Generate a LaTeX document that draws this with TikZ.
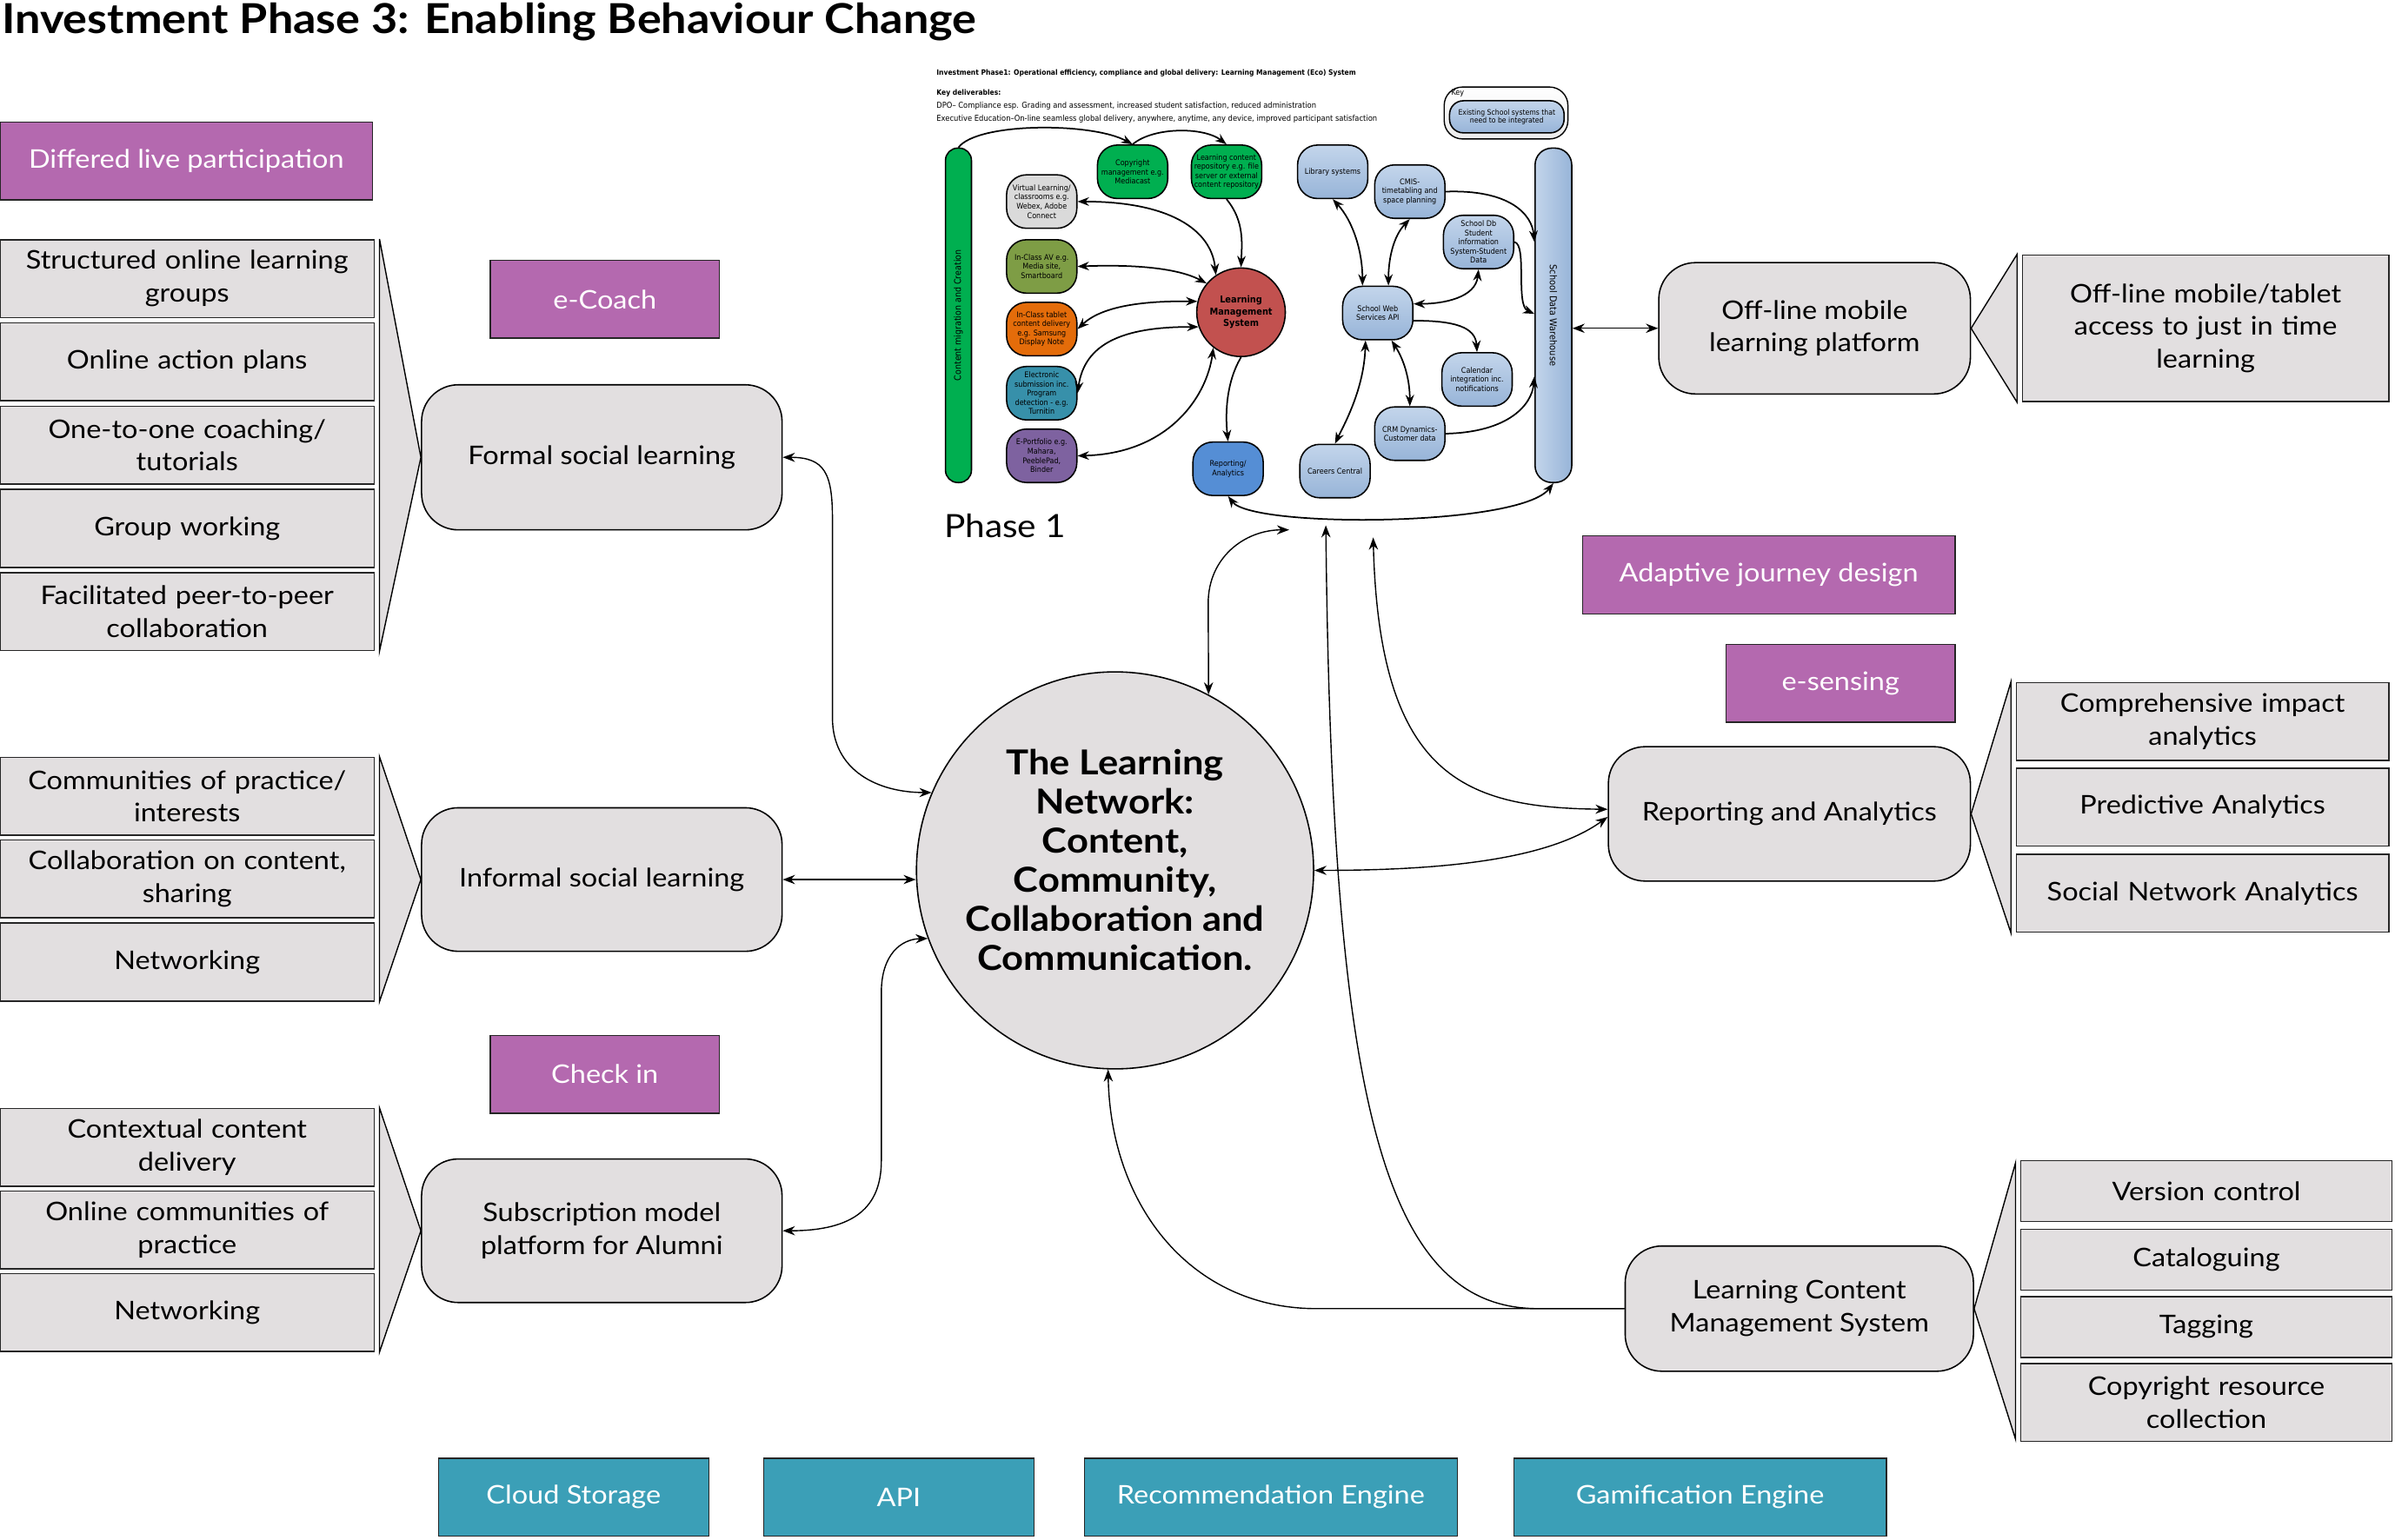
\documentclass[tikz,border=0pt]{standalone}
\usepackage{fontspec}
\setmainfont{Lato}[FakeStretch=1.1]
\newfontfamily\phasefont{DejaVu Sans}[FakeStretch=0.9]
\usetikzlibrary{arrows.meta,calc,positioning}

\definecolor{plum}{HTML}{B469AF}
\definecolor{boxgrey}{HTML}{E2DFE0}
\definecolor{engteal}{HTML}{3B9FB7}
\definecolor{igreen}{HTML}{00AF50}
\definecolor{vlgrey}{HTML}{DADADA}
\definecolor{olive}{HTML}{7E9D45}
\definecolor{iorange}{HTML}{E46C0A}
\definecolor{iteal}{HTML}{3790AA}
\definecolor{ipurple}{HTML}{7E62A0}
\definecolor{lmsred}{HTML}{C2514F}
\definecolor{iblue}{HTML}{558ED5}
\definecolor{lbtop}{HTML}{C3D5EB}
\definecolor{lbbot}{HTML}{97B4D8}

\newcommand\mainsize{\fontsize{16.8}{21.5}\selectfont}
\newcommand\phasesize{\phasefont\fontsize{5.1}{6}\selectfont}

\begin{document}
\begin{tikzpicture}[x=1pt,y=-1pt,
    pbox/.style={draw=black!85,line width=0.8pt,fill=plum,text=white,minimum width=150pt,minimum height=51pt,font=\mainsize},
    gbox/.style={draw=black!85,line width=0.9pt,fill=boxgrey,minimum width=245pt,minimum height=51pt,text width=238pt,align=center,inner sep=0pt,font=\mainsize},
    rbox/.style={draw=black,line width=0.9pt,fill=boxgrey,rounded corners=24pt,minimum width=236pt,minimum height=94pt,align=center,font=\mainsize},
    tbox/.style={draw=black!85,line width=0.8pt,fill=engteal,text=white,minimum width=177pt,minimum height=51pt,font=\mainsize},
    wedge/.style={draw=black,line width=0.8pt,fill=boxgrey},
    marrow/.style={line width=0.8pt,>={Stealth[length=8pt,width=6pt]}},
    ibox/.style={draw=black,line width=0.9pt,rounded corners=13pt,minimum width=46pt,minimum height=35pt,inner sep=0.5pt,align=center,font=\phasesize},
    sysbox/.style={ibox,top color=lbtop,bottom color=lbbot},
    iarrow/.style={line width=1pt,>={Stealth[length=7.5pt,width=5.6pt]}},
    headline/.style={anchor=base west,inner sep=0pt},
  ]
  \useasboundingbox (0,0) rectangle (1568,1008);
  \fill[white] (0,0) rectangle (1568,1008);

  \node[headline,font=\bfseries\fontsize{27}{30}\selectfont] (title) at (1,22) {Investment Phase 3: Enabling Behaviour Change};

  \node[pbox,minimum width=244pt] (dlp) at (122,105.5) {Differed live participation};
  \node[pbox] (ecoach) at (396,196) {e-Coach};
  \node[pbox] (checkin) at (396,703.5) {Check in};
  \node[pbox,minimum width=244pt] (adaptive) at (1158,376.5) {Adaptive journey design};
  \node[pbox] (esensing) at (1205,447.5) {e-sensing};

  \node[gbox] (s1) at (122.5,182.5) {Structured online learning\\groups};
  \node[gbox] (s2) at (122.5,237) {Online action plans};
  \node[gbox] (s3) at (122.5,291.5) {One-to-one coaching/\\tutorials};
  \node[gbox] (s4) at (122.5,346) {Group working};
  \node[gbox] (s5) at (122.5,400.5) {Facilitated peer-to-peer\\collaboration};
  \node[rbox,minimum height=95pt] (formal) at (394,299.5) {Formal social learning};
  \filldraw[wedge] ($(s1.north east)+(3,0)$) -- (formal.west) -- ($(s5.south east)+(3,0)$) -- cycle;

  \node[gbox] (i1) at (122.5,521.5) {Communities of practice/\\interests};
  \node[gbox] (i2) at (122.5,575.5) {Collaboration on content,\\sharing};
  \node[gbox] (i3) at (122.5,630) {Networking};
  \node[rbox] (informal) at (394,576) {Informal social learning};
  \filldraw[wedge] ($(i1.north east)+(3,0)$) -- (informal.west) -- ($(i3.south east)+(3,0)$) -- cycle;

  \node[gbox] (a1) at (122.5,751.5) {Contextual content\\delivery};
  \node[gbox] (a2) at (122.5,805.5) {Online communities of\\practice};
  \node[gbox] (a3) at (122.5,859.5) {Networking};
  \node[rbox] (subscr) at (394,806) {Subscription model\\platform for Alumni};
  \filldraw[wedge] ($(a1.north east)+(3,0)$) -- (subscr.west) -- ($(a3.south east)+(3,0)$) -- cycle;

  \node[circle,draw=black,line width=0.9pt,fill=boxgrey,minimum size=260pt,inner sep=0pt] (circ) at (730,570) {};
  \node[align=center,font=\bfseries\fontsize{22.5}{25.6}\selectfont] (circtext) at (730,563) {The Learning\\Network:\\Content,\\Community,\\Collaboration and\\Communication.};

  \node[rbox,minimum width=204pt,minimum height=86pt] (offline) at (1188,215) {Off-line mobile\\learning platform};
  \node[gbox,minimum width=240pt,minimum height=96pt,text width=232pt] (offdesc) at (1444,215) {Off-line mobile/tablet\\access to just in time\\learning};
  \filldraw[wedge] (offline.east) -- ($(offdesc.north west)+(-3,0)$) -- ($(offdesc.south west)+(-3,0)$) -- cycle;

  \node[rbox,minimum width=237pt,minimum height=88pt] (rep) at (1171.5,533) {Reporting and Analytics};
  \node[gbox,minimum width=244pt] (r1) at (1442,472.5) {Comprehensive impact\\analytics};
  \node[gbox,minimum width=244pt] (r2) at (1442,528.5) {Predictive Analytics};
  \node[gbox,minimum width=244pt] (r3) at (1442,585) {Social Network Analytics};
  \filldraw[wedge] (rep.east) -- ($(r1.north west)+(-3,0)$) -- ($(r3.south west)+(-3,0)$) -- cycle;

  \node[rbox,minimum width=228pt,minimum height=82pt] (lcms) at (1178,857) {Learning Content\\Management System};
  \node[gbox,minimum width=243pt,minimum height=40pt] (l1) at (1444.5,780) {Version control};
  \node[gbox,minimum width=243pt,minimum height=40pt] (l2) at (1444.5,825) {Cataloguing};
  \node[gbox,minimum width=243pt,minimum height=40pt] (l3) at (1444.5,869) {Tagging};
  \node[gbox,minimum width=243pt] (l4) at (1444.5,918.5) {Copyright resource\\collection};
  \filldraw[wedge] (lcms.east) -- ($(l1.north west)+(-3,2)$) -- ($(l4.south west)+(-3,-2)$) -- cycle;

  \node[tbox] (cloud) at (375.5,980.5) {Cloud Storage};
  \node[tbox] (api) at (588.5,980.5) {API};
  \node[tbox,minimum width=244pt] (recom) at (832,980.5) {Recommendation Engine};
  \node[tbox,minimum width=244pt] (gamif) at (1113,980.5) {Gamification Engine};

  \node[headline,font=\phasefont\bfseries\fontsize{4.8}{6}\selectfont] (head) at (613,49.3) {Investment Phase1: Operational efficiency, compliance and global delivery: Learning Management (Eco) System};
  \node[headline,font=\phasefont\bfseries\fontsize{4.8}{6}\selectfont] (keyd) at (613,62.2) {Key deliverables:};
  \node[headline,font=\phasefont\fontsize{5.3}{6}\selectfont] (dpo) at (613,70.8) {DPO– Compliance esp. Grading and assessment, increased student satisfaction, reduced administration};
  \node[headline,font=\phasefont\fontsize{5.3}{6}\selectfont] (exec) at (613,79.3) {Executive Education–On-line seamless global delivery, anywhere, anytime, any device, improved participant satisfaction};

  \node[draw=black,line width=0.8pt,top color=white,bottom color=black!8,rounded corners=12pt,minimum width=81pt,minimum height=34pt] (key) at (986,74) {};
  \node[headline,font=\phasesize] (keylabel) at (950,62.5) {Key};
  \node[sysbox,minimum width=75pt,minimum height=21pt,rounded corners=9pt,font=\phasefont\fontsize{4.9}{5.3}\selectfont] (keyitem) at (986.5,76.5) {Existing School systems that\\need to be integrated};

  \node[draw=black,line width=0.9pt,fill=igreen,rounded corners=8pt,minimum width=17pt,minimum height=219pt,inner sep=0pt] (bar) at (627.5,206.5) {};
  \node[rotate=90,font=\phasefont\fontsize{6}{7}\selectfont] (bartext) at (bar) {Content migration and Creation};
  \node[draw=black,line width=0.9pt,left color=lbtop,right color=lbbot,rounded corners=11pt,minimum width=24pt,minimum height=219pt,inner sep=0pt] (wh) at (1017,206.5) {};
  \node[rotate=-90,font=\phasefont\fontsize{6.2}{7}\selectfont] (whtext) at (wh) {School Data Warehouse};

  \node[ibox,fill=igreen] (copy) at (741.5,112.5) {Copyright\\management e.g.\\Mediacast};
  \node[ibox,fill=igreen] (lcr) at (803,112.5) {Learning content\\repository e.g. file\\server or external\\content repository};
  \node[ibox,fill=vlgrey] (vl) at (682,132) {Virtual Learning/\\classrooms e.g.\\Webex,  Adobe\\Connect};
  \node[ibox,fill=olive] (av) at (682,174.5) {In-Class AV e.g.\\Media site,\\Smartboard};
  \node[ibox,fill=iorange] (tab) at (682,215.5) {In-Class tablet\\content delivery\\e.g. Samsung\\Display Note};
  \node[ibox,fill=iteal] (esub) at (682,257.5) {Electronic\\submission inc.\\Program\\detection - e.g.\\Turnitin};
  \node[ibox,fill=ipurple] (eport) at (682,298.5) {E-Portfolio e.g.\\Mahara,\\PeeblePad,\\Binder};
  \node[circle,draw=black,line width=0.9pt,fill=lmsred,minimum size=58pt,inner sep=0pt,align=center,font=\phasefont\bfseries\fontsize{6.2}{7.6}\selectfont] (lms) at (812.5,204.5) {Learning\\Management\\System};
  \node[ibox,fill=iblue] (repa) at (804,307) {Reporting/\\Analytics};

  \node[sysbox] (lib) at (872.5,112.5) {Library systems};
  \node[sysbox] (cmis) at (923,125.5) {CMIS-\\timetabling and\\space planning};
  \node[sysbox] (sdb) at (968,158.5) {School Db\\Student\\information\\System-Student\\Data};
  \node[sysbox] (sws) at (902,205) {School Web\\Services API};
  \node[sysbox] (cal) at (967,248.5) {Calendar\\integration inc.\\notifications};
  \node[sysbox] (crm) at (923,284) {CRM Dynamics-\\Customer data};
  \node[sysbox] (car) at (874,308.5) {Careers Central};

  \node[headline,font=\fontsize{21}{25}\selectfont] (phase) at (618,352) {Phase 1};

  \draw[iarrow,->] (bar.north) .. controls (640,80) and (715,80) .. (copy.north);
  \draw[iarrow,->] (copy.north) .. controls (755,83) and (788,83) .. (lcr.north);
  \draw[iarrow,->] (lcr.south) .. controls (815,145) and (813,160) .. (lms.north);
  \draw[iarrow,<->] (vl.east) .. controls (765,132) and (793,150) .. (lms.124);
  \draw[iarrow,<->] (av.east) .. controls (745,173) and (772,176) .. (lms.140);
  \draw[iarrow,<->] (tab.east) .. controls (722,200) and (750,197) .. (lms.166);
  \draw[iarrow,<->] (esub.east) .. controls (710,225) and (735,214) .. (lms.199);
  \draw[iarrow,<->] (eport.east) .. controls (765,297) and (790,260) .. (lms.232);
  \draw[iarrow,->] (lms.south) .. controls (803,250) and (802,270) .. (repa.north);
  \draw[iarrow,<->] (lib.south) .. controls (886,145) and (892,165) .. ([xshift=-10pt]sws.north);
  \draw[iarrow,<->] (cmis.south) .. controls (912,155) and (909,170) .. ([xshift=7pt]sws.north);
  \draw[iarrow,<->] (sdb.south) .. controls (966,195) and (945,199) .. ([yshift=6pt]sws.east);
  \draw[iarrow,->] ([yshift=-5pt]sws.east) .. controls (952,210) and (966,214) .. (cal.north);
  \draw[iarrow,<->] ([xshift=9pt]sws.south) .. controls (920,237) and (923,250) .. (crm.north);
  \draw[iarrow,<->] ([xshift=-8pt]sws.south) .. controls (893,255) and (880,278) .. (car.north);
  \draw[iarrow,->] (cmis.east) .. controls (988,124) and (1003,140) .. ([yshift=48pt]wh.west);
  \draw[iarrow,->] (sdb.east) .. controls (1000,160) and (992,200) .. ([yshift=1pt]wh.west);
  \draw[iarrow,->] (crm.east) .. controls (988,283) and (1003,265) .. ([yshift=-40pt]wh.west);
  \draw[iarrow,<->] (repa.south) .. controls (820,346) and (995,345) .. (wh.south);

  \coordinate (p1a) at (844,347);
  \coordinate (p1b) at (868,344);
  \coordinate (p1c) at (899,352);

  \draw[marrow,<->] (formal.east) .. controls (540,299.5) and (545,310) .. (545,340) -- (545,470) .. controls (545,505) and (575,519) .. (circ.157);
  \draw[marrow,<->] (informal.east) -- (informal.east -| circ.west);
  \draw[marrow,<->] (subscr.east) .. controls (560,806) and (577,790) .. (577,760) -- (577,650) .. controls (577,625) and (590,615) .. (circ.200);
  \draw[marrow,<->] (circ.62) -- (791,395) .. controls (791,365) and (815,347) .. (p1a);
  \draw[marrow,->] (lcms.west) -- (1007,857) .. controls (905,857) and (872,720) .. (p1b);
  \draw[marrow,->] (lcms.west) -- (862,857) .. controls (780,857) and (727,790) .. (circ.268);
  \draw[marrow,<->] (p1c) .. controls (903,510) and (960,529) .. ([yshift=3pt]rep.west);
  \draw[marrow,<->] (circ.east) .. controls (950,570) and (1015,562) .. ([yshift=-2pt]rep.west);
  \draw[marrow,<->] (offline.west) -- (offline.west -| wh.east);
\end{tikzpicture}
\end{document}
